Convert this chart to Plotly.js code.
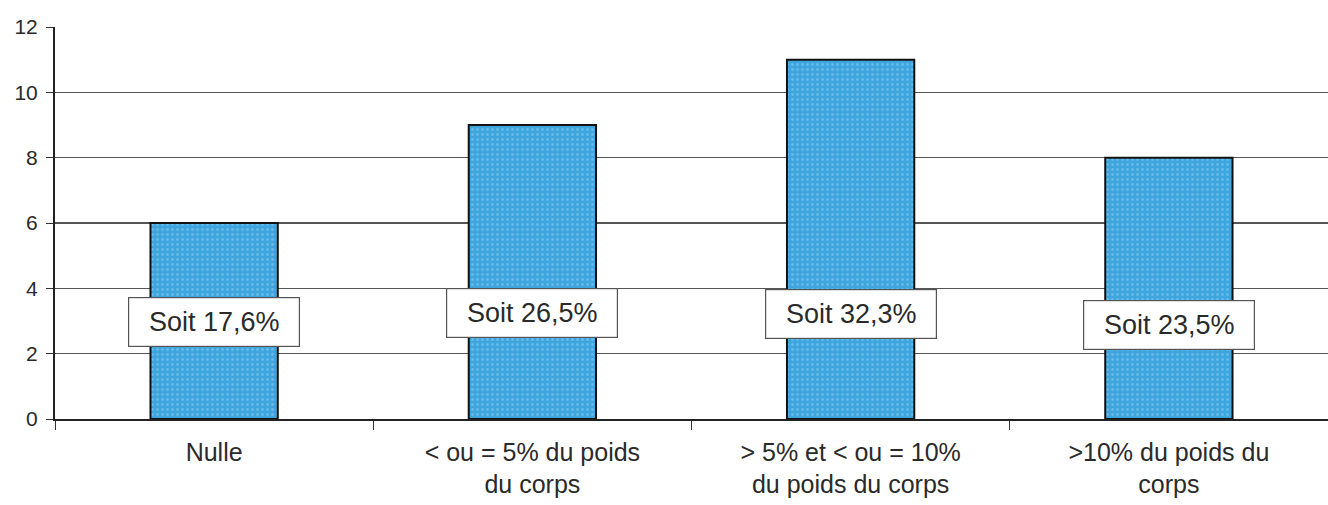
<!DOCTYPE html>
<html><head><meta charset="utf-8">
<script src="https://cdn.plot.ly/plotly-3.0.1.min.js"></script>
<style>body{margin:0;background:#fff}#c{width:1328px;height:505px}</style>
</head><body><div id="c"></div>
<script>
const categories = ["Nulle", "< ou = 5% du poids<br>du corps", "> 5% et < ou = 10%<br>du poids du corps", ">10% du poids du<br>corps"];
const counts = [6, 9, 11, 8];
const shareLabels = ["Soit 17,6%", "Soit 26,5%", "Soit 32,3%", "Soit 23,5%"];
const labelY = [2.97, 3.25, 3.2, 2.88];
const yTicks = [0, 2, 4, 6, 8, 10, 12];

const font = "Liberation Sans, Arial, sans-serif";
const trace = {
  type: "bar", x: categories, y: counts, width: 0.4,
  marker: {
    color: "#3ea6df", line: {color: "#111", width: 2},
    pattern: {shape: ".", fgcolor: "#8fcbee", bgcolor: "#3ea6df", size: 5, solidity: 0.25, fillmode: "overlay"}
  },
  hoverinfo: "none"
};
const annotations = categories.map((c, i) => ({
  x: c, y: labelY[i], xref: "x", yref: "y", text: shareLabels[i], showarrow: false,
  font: {family: font, size: 27, color: "#2a2a2a"},
  width: 156, height: 34, align: "center", valign: "middle",
  bgcolor: "#fff", bordercolor: "#555", borderwidth: 1.2, borderpad: 7
}));
const layout = {
  width: 1328, height: 505,
  margin: {l: 55, r: 0, t: 27, b: 86},
  paper_bgcolor: "#fff", plot_bgcolor: "#fff",
  showlegend: false,
  xaxis: {
    type: "category", tickson: "boundaries", ticks: "outside", ticklen: 9, tickcolor: "#333",
    showline: true, linecolor: "#222", linewidth: 1.5, showgrid: false,
    ticklabelstandoff: 10,
    tickfont: {family: font, size: 25, color: "#2a2a2a"}, range: [-0.5, 3.5]
  },
  yaxis: {
    range: [0, 12], tickvals: yTicks, ticks: "outside", ticklen: 7, tickcolor: "#333",
    showline: true, linecolor: "#222", linewidth: 2, zeroline: false,
    showgrid: true, gridcolor: "#555", gridwidth: 1.2,
    ticklabelstandoff: 4,
    tickfont: {family: font, size: 21, color: "#2a2a2a"}
  },
  annotations: annotations
};
Plotly.newPlot("c", [trace], layout, {staticPlot: true});
</script></body></html>
